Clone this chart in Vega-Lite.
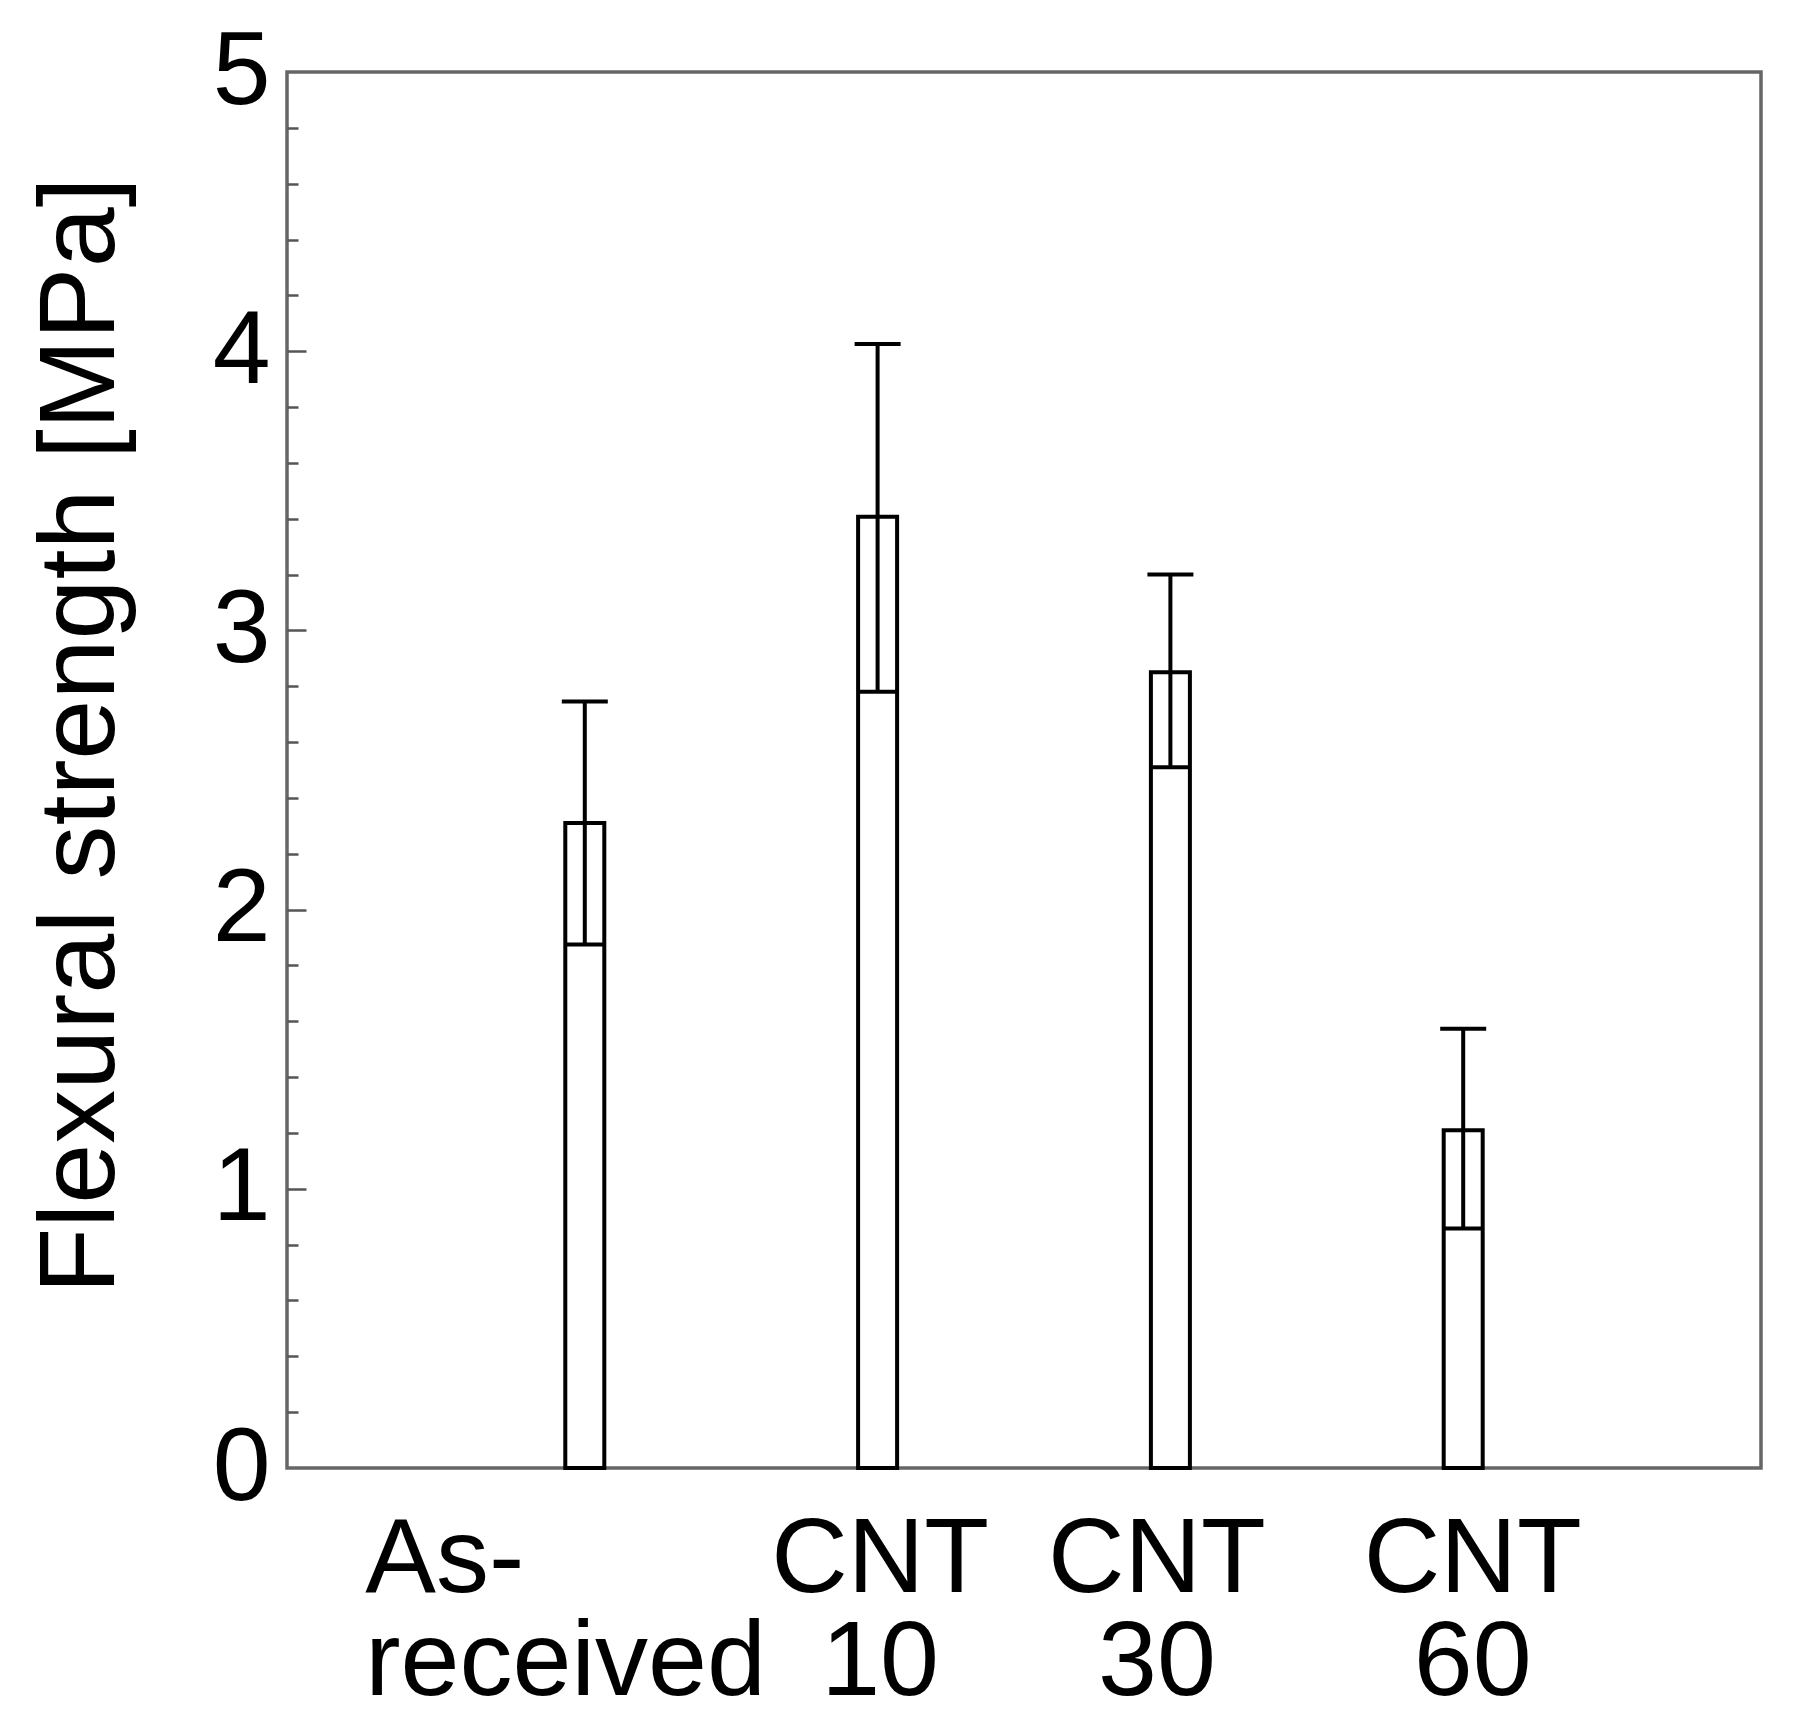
{
  "$schema": "https://vega.github.io/schema/vega-lite/v6.json",
  "autosize": "none",
  "padding": {"left": 287, "top": 72, "right": 37, "bottom": 264},
  "width": 1474,
  "height": 1396,
  "background": "white",
  "config": {
    "font": "Liberation Sans",
    "view": {"stroke": "#666666", "strokeWidth": 3.5},
    "axis": {"grid": false, "domain": false, "labelColor": "black", "titleColor": "black", "labelFont": "Liberation Sans", "titleFont": "Liberation Sans", "labelLimit": 0}
  },
  "data": {"values": [
    {"pos": 1, "sample": "As-received", "mean": 2.31, "low": 1.875, "high": 2.745},
    {"pos": 2, "sample": "CNT 10", "mean": 3.407, "low": 2.78, "high": 4.026},
    {"pos": 3, "sample": "CNT 30", "mean": 2.85, "low": 2.51, "high": 3.2},
    {"pos": 4, "sample": "CNT 60", "mean": 1.21, "low": 0.858, "high": 1.573}
  ]},
  "encoding": {
    "x": {
      "field": "pos", "type": "quantitative",
      "scale": {"domain": [0, 5], "nice": false, "zero": false},
      "axis": {
        "title": null, "values": [1, 2, 3, 4], "ticks": false, "domain": false, "grid": false,
        "labelFontSize": 106, "labelLineHeight": 103, "labelPadding": 39, "labelLimit": 0,
        "labelFlush": false, "labelOverlap": false, "labelBaseline": "top",
        "labelAlign": {"condition": {"test": "datum.value == 1", "value": "left"}, "value": "center"},
        "labelOffset": {"condition": [
          {"test": "datum.value == 1", "value": -220},
          {"test": "datum.value == 2", "value": 2},
          {"test": "datum.value == 3", "value": -14}
        ], "value": 9},
        "labelExpr": "datum.value == 1 ? ['As-', 'received'] : datum.value == 2 ? ['CNT', '10'] : datum.value == 3 ? ['CNT', '30'] : ['CNT', '60']"
      }
    }
  },
  "layer": [
    {
      "mark": {"type": "bar", "size": 39, "fill": "white", "stroke": "black", "strokeWidth": 4},
      "encoding": {
        "y": {
          "field": "mean", "type": "quantitative",
          "scale": {"domain": [0, 5], "nice": false},
          "axis": {
            "orient": "left", "title": "Flexural strength [MPa]", "values": [0, 1, 2, 3, 4, 5],
            "ticks": false, "domain": false, "labelFontSize": 104, "labelPadding": 17,
            "titleFontSize": 108, "titleFontWeight": "normal", "titlePadding": 76, "titleY": 663
          }
        }
      }
    },
    {
      "mark": {"type": "rule", "stroke": "black", "strokeWidth": 4},
      "encoding": {
        "y": {
          "field": "low", "type": "quantitative",
          "axis": {
            "orient": "left", "title": null, "labels": false, "domain": false,
            "values": [0.2, 0.4, 0.6, 0.8, 1.2, 1.4, 1.6, 1.8, 2.2, 2.4, 2.6, 2.8, 3.2, 3.4, 3.6, 3.8, 4.2, 4.4, 4.6, 4.8],
            "ticks": true, "tickSize": -11, "tickWidth": 2.5, "tickColor": "#555555"
          }
        },
        "y2": {"field": "high"}
      }
    },
    {
      "mark": {"type": "rule", "stroke": "black", "strokeWidth": 4, "xOffset": -23, "x2Offset": 23},
      "encoding": {
        "x2": {"field": "pos"},
        "y": {
          "field": "high", "type": "quantitative",
          "axis": {
            "orient": "left", "title": null, "labels": false, "domain": false,
            "values": [1, 2, 3, 4],
            "ticks": true, "tickSize": -19, "tickWidth": 2.5, "tickColor": "#555555"
          }
        }
      }
    },
    {
      "mark": {"type": "rule", "stroke": "black", "strokeWidth": 4, "xOffset": -20, "x2Offset": 20},
      "encoding": {
        "x2": {"field": "pos"},
        "y": {"field": "low", "type": "quantitative", "axis": null}
      }
    }
  ],
  "resolve": {"axis": {"y": "independent"}}
}
